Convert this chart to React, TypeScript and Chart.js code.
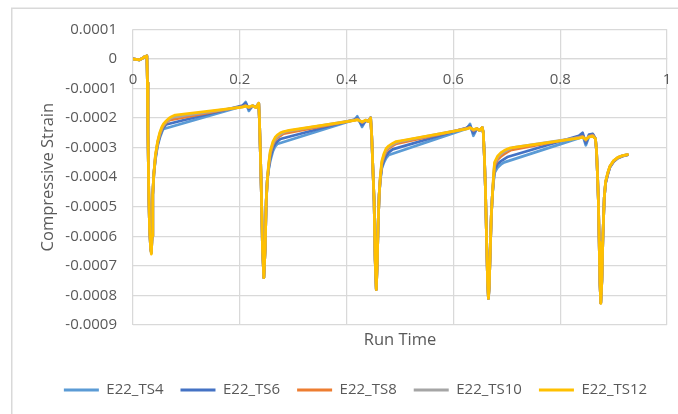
import { useEffect, useRef } from "react";
import { Chart, registerables } from "chart.js";

Chart.register(...registerables);

// Run time samples (shared by all series; null = no sample for that series)
const runTime = [
  0, 0.006, 0.012, 0.018, 0.022, 0.025, 0.026, 0.027, 0.028, 0.0295, 0.031, 0.033, 0.0344, 0.0357, 0.037, 0.039, 0.042, 0.046, 0.05, 0.054, 0.057, 0.062, 0.068, 0.073, 0.079,
  0.205, 0.211, 0.217, 0.224, 0.23, 0.2355,
  0.237, 0.239, 0.2405, 0.2425, 0.245, 0.2475, 0.2495, 0.2515, 0.254, 0.257, 0.262, 0.266, 0.27, 0.276, 0.282, 0.287, 0.292,
  0.415, 0.42, 0.429, 0.436, 0.441, 0.445,
  0.447, 0.449, 0.4515, 0.4535, 0.4556, 0.4575, 0.459, 0.461, 0.463, 0.466, 0.47, 0.474, 0.479, 0.486, 0.492, 0.498, 0.504,
  0.625, 0.631, 0.6375, 0.644, 0.649, 0.654,
  0.656, 0.658, 0.66, 0.662, 0.664, 0.6656, 0.667, 0.669, 0.671, 0.673, 0.675, 0.677, 0.683, 0.689, 0.695, 0.701, 0.707, 0.711, 0.714,
  0.835, 0.842, 0.848, 0.854, 0.861,
  0.866, 0.868, 0.87, 0.8715, 0.873, 0.8745, 0.876, 0.878, 0.88, 0.8825, 0.885, 0.889, 0.893, 0.9, 0.908, 0.917, 0.926,
];

const ts4 = [
  0, -0.02e-4, -0.04e-4, 0.02e-4, 0.08e-4, 0.04e-4, 0.1e-4, -0.8e-4, -2.5e-4, -4.5e-4, -5.7e-4, -6.4e-4, -6.55e-4, -6.0e-4, -4.6e-4, -3.9e-4, -3.4e-4, -2.95e-4, -2.68e-4, -2.48e-4, -2.37e-4, null, null, null, null,
  -1.6e-4, -1.46e-4, -1.76e-4, -1.58e-4, -1.63e-4, -1.51e-4,
  -2.2e-4, -3.5e-4, -4.6e-4, -6.4e-4, -7.4e-4, -6.4e-4, -4.8e-4, -4.1e-4, -3.75e-4, -3.45e-4, -3.12e-4, -2.97e-4, -2.88e-4, null, null, null, null,
  -2.06e-4, -1.94e-4, -2.3e-4, -2.07e-4, -2.12e-4, -1.99e-4,
  -2.6e-4, -3.6e-4, -4.8e-4, -6.8e-4, -7.8e-4, -6.8e-4, -5.6e-4, -4.6e-4, -4.1e-4, -3.7e-4, -3.5e-4, -3.36e-4, -3.25e-4, null, null, null, null,
  -2.36e-4, -2.2e-4, -2.6e-4, -2.36e-4, -2.42e-4, -2.32e-4,
  -2.5e-4, -3.3e-4, -4.4e-4, -6.0e-4, -7.5e-4, -8.1e-4, -7.7e-4, -6.5e-4, -5.3e-4, -4.6e-4, -4.2e-4, -3.85e-4, -3.67e-4, -3.57e-4, -3.5e-4, null, null, null, null,
  -2.68e-4, -2.58e-4, -2.92e-4, -2.62e-4, -2.55e-4,
  -2.7e-4, -3.1e-4, -4.0e-4, -4.8e-4, -6.2e-4, -7.6e-4, -8.25e-4, -7.5e-4, -6.0e-4, -4.7e-4, -4.2e-4, -3.92e-4, -3.67e-4, -3.48e-4, -3.36e-4, -3.29e-4, -3.25e-4,
];

const ts6 = [
  0, -0.02e-4, -0.03e-4, 0.02e-4, 0.08e-4, 0.04e-4, 0.1e-4, -0.8e-4, -2.5e-4, -4.5e-4, -5.7e-4, -6.4e-4, -6.55e-4, -6.0e-4, -4.6e-4, -3.9e-4, -3.35e-4, -2.9e-4, -2.62e-4, -2.42e-4, -2.32e-4, -2.22e-4, null, null, null,
  -1.58e-4, -1.5e-4, -1.7e-4, -1.6e-4, -1.63e-4, -1.51e-4,
  -2.2e-4, -3.5e-4, -4.6e-4, -6.4e-4, -7.4e-4, -6.4e-4, -4.8e-4, -4.1e-4, -3.7e-4, -3.35e-4, -3.02e-4, -2.88e-4, -2.8e-4, -2.71e-4, null, null, null,
  -2.05e-4, -2.0e-4, -2.24e-4, -2.08e-4, -2.12e-4, -1.99e-4,
  -2.6e-4, -3.6e-4, -4.8e-4, -6.8e-4, -7.8e-4, -6.8e-4, -5.6e-4, -4.6e-4, -4.1e-4, -3.65e-4, -3.42e-4, -3.27e-4, -3.16e-4, -3.06e-4, null, null, null,
  -2.33e-4, -2.26e-4, -2.52e-4, -2.36e-4, -2.42e-4, -2.32e-4,
  -2.5e-4, -3.3e-4, -4.4e-4, -6.0e-4, -7.5e-4, -8.1e-4, -7.7e-4, -6.5e-4, -5.3e-4, -4.6e-4, -4.15e-4, -3.75e-4, -3.55e-4, -3.46e-4, -3.39e-4, -3.32e-4, null, null, null,
  -2.6e-4, -2.5e-4, -2.86e-4, -2.56e-4, -2.54e-4,
  -2.7e-4, -3.1e-4, -4.0e-4, -4.8e-4, -6.2e-4, -7.6e-4, -8.25e-4, -7.5e-4, -6.0e-4, -4.7e-4, -4.2e-4, -3.9e-4, -3.66e-4, -3.47e-4, -3.35e-4, -3.28e-4, -3.25e-4,
];

const ts8 = [
  0, -0.02e-4, -0.03e-4, 0.02e-4, 0.08e-4, 0.04e-4, 0.1e-4, -0.8e-4, -2.5e-4, -4.5e-4, -5.7e-4, -6.4e-4, -6.55e-4, -6.0e-4, -4.6e-4, -3.9e-4, -3.3e-4, -2.85e-4, -2.57e-4, -2.37e-4, -2.27e-4, -2.16e-4, -2.07e-4, null, null,
  -1.61e-4, -1.58e-4, -1.65e-4, -1.6e-4, -1.63e-4, -1.5e-4,
  -2.2e-4, -3.5e-4, -4.6e-4, -6.4e-4, -7.4e-4, -6.4e-4, -4.8e-4, -4.1e-4, -3.65e-4, -3.22e-4, -2.9e-4, -2.76e-4, -2.68e-4, -2.6e-4, -2.53e-4, null, null,
  -2.07e-4, -2.04e-4, -2.15e-4, -2.08e-4, -2.12e-4, -2.0e-4,
  -2.6e-4, -3.6e-4, -4.8e-4, -6.8e-4, -7.8e-4, -6.8e-4, -5.6e-4, -4.6e-4, -4.05e-4, -3.55e-4, -3.3e-4, -3.13e-4, -3.03e-4, -2.94e-4, -2.88e-4, null, null,
  -2.35e-4, -2.32e-4, -2.42e-4, -2.36e-4, -2.42e-4, -2.32e-4,
  -2.5e-4, -3.3e-4, -4.4e-4, -6.0e-4, -7.5e-4, -8.1e-4, -7.7e-4, -6.5e-4, -5.3e-4, -4.6e-4, -4.1e-4, -3.62e-4, -3.4e-4, -3.3e-4, -3.22e-4, -3.15e-4, -3.09e-4, null, null,
  -2.65e-4, -2.62e-4, -2.75e-4, -2.62e-4, -2.58e-4,
  -2.7e-4, -3.1e-4, -4.0e-4, -4.8e-4, -6.2e-4, -7.6e-4, -8.25e-4, -7.5e-4, -6.0e-4, -4.7e-4, -4.18e-4, -3.88e-4, -3.65e-4, -3.46e-4, -3.34e-4, -3.28e-4, -3.24e-4,
];

const ts10 = [
  0, -0.02e-4, -0.03e-4, 0.02e-4, 0.08e-4, 0.04e-4, 0.1e-4, -0.8e-4, -2.5e-4, -4.5e-4, -5.7e-4, -6.4e-4, -6.55e-4, -6.0e-4, -4.6e-4, -3.9e-4, -3.3e-4, -2.83e-4, -2.54e-4, -2.34e-4, -2.24e-4, -2.13e-4, -2.04e-4, -1.98e-4, null,
  -1.62e-4, -1.59e-4, -1.64e-4, -1.59e-4, -1.64e-4, -1.5e-4,
  -2.2e-4, -3.5e-4, -4.6e-4, -6.4e-4, -7.4e-4, -6.4e-4, -4.8e-4, -4.1e-4, -3.6e-4, -3.17e-4, -2.86e-4, -2.72e-4, -2.63e-4, -2.55e-4, -2.49e-4, -2.45e-4, null,
  -2.07e-4, -2.05e-4, -2.14e-4, -2.08e-4, -2.12e-4, -2.0e-4,
  -2.6e-4, -3.6e-4, -4.8e-4, -6.8e-4, -7.8e-4, -6.8e-4, -5.6e-4, -4.6e-4, -4.05e-4, -3.5e-4, -3.25e-4, -3.08e-4, -2.98e-4, -2.9e-4, -2.84e-4, -2.8e-4, null,
  -2.36e-4, -2.33e-4, -2.4e-4, -2.36e-4, -2.42e-4, -2.32e-4,
  -2.5e-4, -3.3e-4, -4.4e-4, -6.0e-4, -7.5e-4, -8.1e-4, -7.7e-4, -6.5e-4, -5.3e-4, -4.6e-4, -4.05e-4, -3.55e-4, -3.33e-4, -3.22e-4, -3.14e-4, -3.08e-4, -3.03e-4, -3.0e-4, null,
  -2.66e-4, -2.64e-4, -2.73e-4, -2.63e-4, -2.6e-4,
  -2.7e-4, -3.1e-4, -4.0e-4, -4.8e-4, -6.2e-4, -7.6e-4, -8.25e-4, -7.5e-4, -6.0e-4, -4.7e-4, -4.16e-4, -3.86e-4, -3.64e-4, -3.45e-4, -3.34e-4, -3.27e-4, -3.24e-4,
];

const ts12 = [
  -0.01e-4, -0.02e-4, -0.03e-4, 0.02e-4, 0.08e-4, 0.04e-4, 0.1e-4, -0.8e-4, -2.5e-4, -4.5e-4, -5.7e-4, -6.4e-4, -6.6e-4, -6.0e-4, -4.6e-4, -3.9e-4, -3.25e-4, -2.8e-4, -2.5e-4, -2.3e-4, -2.2e-4, -2.1e-4, -2.0e-4, -1.95e-4, -1.9e-4,
  -1.63e-4, -1.6e-4, -1.63e-4, -1.58e-4, -1.65e-4, -1.5e-4,
  -2.2e-4, -3.5e-4, -4.6e-4, -6.4e-4, -7.4e-4, -6.4e-4, -4.8e-4, -4.1e-4, -3.55e-4, -3.12e-4, -2.8e-4, -2.66e-4, -2.58e-4, -2.5e-4, -2.46e-4, -2.44e-4, -2.42e-4,
  -2.08e-4, -2.06e-4, -2.13e-4, -2.07e-4, -2.12e-4, -2.0e-4,
  -2.6e-4, -3.6e-4, -4.8e-4, -6.8e-4, -7.8e-4, -6.8e-4, -5.6e-4, -4.6e-4, -4.0e-4, -3.45e-4, -3.2e-4, -3.03e-4, -2.94e-4, -2.86e-4, -2.8e-4, -2.78e-4, -2.76e-4,
  -2.37e-4, -2.33e-4, -2.39e-4, -2.36e-4, -2.42e-4, -2.32e-4,
  -2.5e-4, -3.3e-4, -4.4e-4, -6.0e-4, -7.5e-4, -8.1e-4, -7.7e-4, -6.5e-4, -5.3e-4, -4.6e-4, -4.0e-4, -3.5e-4, -3.28e-4, -3.17e-4, -3.1e-4, -3.05e-4, -3.01e-4, -3.0e-4, -2.99e-4,
  -2.68e-4, -2.65e-4, -2.72e-4, -2.64e-4, -2.62e-4,
  -2.7e-4, -3.1e-4, -4.0e-4, -4.8e-4, -6.2e-4, -7.6e-4, -8.27e-4, -7.5e-4, -6.0e-4, -4.7e-4, -4.15e-4, -3.85e-4, -3.63e-4, -3.44e-4, -3.33e-4, -3.27e-4, -3.24e-4,
];

const seriesNames = ["E22_TS4", "E22_TS6", "E22_TS8", "E22_TS10", "E22_TS12"];
const seriesColors = ["#5B9BD5", "#4472C4", "#ED7D31", "#A5A5A5", "#FFC000"];
const seriesValues = [ts4, ts6, ts8, ts10, ts12];

const xTickValues = [0, 0.2, 0.4, 0.6, 0.8, 1];
const yTickValues = [0.0001, 0, -0.0001, -0.0002, -0.0003, -0.0004, -0.0005, -0.0006, -0.0007, -0.0008, -0.0009];

const xTitle = "Run Time";
const yTitle = "Compressive Strain";

const FONT = "'Open Sans', sans-serif";
const TEXT = "#595959";
const GRID = "#D9D9D9";

const fmt = (v: number) => String(Number(Number(v).toFixed(6)));

const framePlugin = {
  id: "frame",
  beforeDraw(chart: any) {
    const ctx = chart.ctx;
    ctx.save();
    ctx.fillStyle = "#ffffff";
    ctx.fillRect(0, 0, chart.width, chart.height);
    ctx.strokeStyle = "#D9D9D9";
    ctx.lineWidth = 1.5;
    ctx.beginPath();
    ctx.moveTo(11.75, chart.height);
    ctx.lineTo(11.75, 8.25);
    ctx.lineTo(chart.width, 8.25);
    ctx.stroke();
    ctx.restore();
  },
};

export default function App() {
  const canvasRef = useRef<HTMLCanvasElement | null>(null);

  useEffect(() => {
    const canvas = canvasRef.current;
    if (!canvas) return;
    const chart = new Chart(canvas, {
      type: "line",
      data: {
        datasets: seriesNames.map((name, k) => ({
          label: name,
          data: runTime.map((t, i) => ({ x: t, y: seriesValues[k][i] })),
          borderColor: seriesColors[k],
          backgroundColor: seriesColors[k],
          borderWidth: 2.75,
          borderJoinStyle: "round",
          borderCapStyle: "round",
          pointRadius: 0,
          pointHoverRadius: 0,
          tension: 0,
          spanGaps: true,
          fill: false,
          order: seriesNames.length - 1 - k,
        })),
      } as any,
      options: {
        responsive: false,
        animation: false,
        events: [],
        layout: { padding: { left: 12, right: 0, top: 29.3, bottom: 6.5 } },
        plugins: {
          legend: {
            position: "bottom",
            labels: {
              boxWidth: 35,
              boxHeight: 3,
              padding: 17,
              color: TEXT,
              font: { family: FONT, size: 15 },
              sort: (a: any, b: any) => a.datasetIndex - b.datasetIndex,
              generateLabels: (c: any) =>
                (Chart.defaults.plugins.legend.labels.generateLabels as any)(c).map((l: any) => ({
                  ...l,
                  lineWidth: 0,
                  lineDash: [],
                  fillStyle: l.strokeStyle,
                })),
            },
          },
          tooltip: { enabled: false },
        },
        scales: {
          x: {
            type: "linear",
            position: { y: 0 },
            min: 0,
            max: 1,
            afterBuildTicks: (s: any) => {
              s.ticks = xTickValues.map((v) => ({ value: v }));
            },
            grid: { color: GRID, lineWidth: 1.25, drawTicks: false },
            border: { display: true, color: GRID, width: 1.25 },
            ticks: {
              color: TEXT,
              font: { family: FONT, size: 15 },
              padding: 12,
              maxRotation: 0,
              autoSkip: false,
              callback: (v: any) => fmt(v),
            },
          },
          xTitleAxis: {
            type: "linear",
            position: "bottom",
            min: 0,
            max: 1,
            grid: { display: false, drawTicks: false },
            border: { display: false },
            ticks: { display: false },
            title: {
              display: true,
              text: xTitle,
              color: TEXT,
              font: { family: FONT, size: 16.5 },
              padding: { top: 5.1, bottom: 15.6 },
            },
          },
          y: {
            type: "linear",
            position: "left",
            min: -0.0009,
            max: 0.0001,
            afterBuildTicks: (s: any) => {
              s.ticks = yTickValues.map((v) => ({ value: v }));
            },
            afterFit: (s: any) => {
              s.width = 121;
            },
            grid: { color: GRID, lineWidth: 1.25, drawTicks: false },
            border: { display: false },
            ticks: {
              color: TEXT,
              font: { family: FONT, size: 15 },
              padding: 16,
              callback: (v: any) => fmt(v),
            },
            title: {
              display: true,
              text: yTitle,
              color: TEXT,
              font: { family: FONT, size: 16.5 },
              padding: { top: 26.6, bottom: 0 },
            },
          },
          yRightSpace: {
            type: "linear",
            position: "right",
            display: true,
            grid: { display: false, drawTicks: false },
            border: { display: false },
            ticks: { display: false },
            afterFit: (s: any) => {
              s.width = 32;
            },
          },
        },
      } as any,
      plugins: [framePlugin],
    });
    return () => chart.destroy();
  }, []);

  return (
    <div
      style={{
        position: "fixed",
        left: 0,
        top: 0,
        width: 678,
        height: 414,
        overflow: "hidden",
        background: "#ffffff",
      }}
    >
      <canvas ref={canvasRef} width={699} height={414} style={{ display: "block" }} />
    </div>
  );
}
